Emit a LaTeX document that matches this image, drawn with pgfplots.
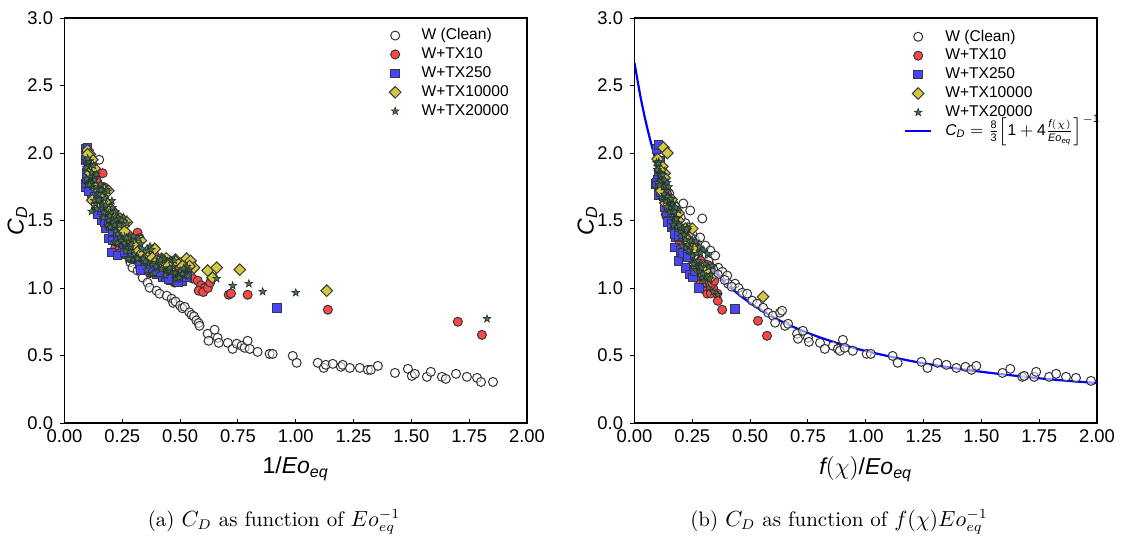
\documentclass[border=0pt]{standalone}
\usepackage{fontspec}
\usepackage{amsmath}
\usepackage{pgfplots}
\pgfplotsset{compat=1.18}
\newfontfamily\arial{Liberation Sans}
\newcommand{\sfit}[1]{\text{\arial\itshape #1}}
\newcommand{\sfup}[1]{\text{\arial #1}}
\definecolor{cred}{RGB}{255,70,70}
\definecolor{cblue}{RGB}{70,70,255}
\definecolor{cyel}{RGB}{212,200,64}
\definecolor{cstar}{RGB}{78,112,88}
\definecolor{cedge}{RGB}{55,55,55}
\pgfdeclareplotmark{fstar}{%
  \pgfpathmoveto{\pgfpointpolar{90}{\pgfplotmarksize}}%
  \pgfpathlineto{\pgfpointpolar{126}{0.4*\pgfplotmarksize}}%
  \pgfpathlineto{\pgfpointpolar{162}{\pgfplotmarksize}}%
  \pgfpathlineto{\pgfpointpolar{198}{0.4*\pgfplotmarksize}}%
  \pgfpathlineto{\pgfpointpolar{234}{\pgfplotmarksize}}%
  \pgfpathlineto{\pgfpointpolar{270}{0.4*\pgfplotmarksize}}%
  \pgfpathlineto{\pgfpointpolar{306}{\pgfplotmarksize}}%
  \pgfpathlineto{\pgfpointpolar{342}{0.4*\pgfplotmarksize}}%
  \pgfpathlineto{\pgfpointpolar{18}{\pgfplotmarksize}}%
  \pgfpathlineto{\pgfpointpolar{54}{0.4*\pgfplotmarksize}}%
  \pgfpathclose\pgfusepathqfillstroke}
\pgfplotsset{
  sclean/.style={only marks, mark=*, mark size=2.25pt, mark options={draw=black!80, fill=white, fill opacity=0.55, line width=0.5pt}},
  sred/.style={only marks, mark=*, mark size=2.25pt, mark options={draw=cedge, fill=cred, line width=0.5pt}},
  sblue/.style={only marks, mark=square*, mark size=2.15pt, mark options={draw=cedge, fill=cblue, line width=0.5pt}},
  syel/.style={only marks, mark=square*, mark size=2.05pt, mark options={rotate=45, draw=cedge, fill=cyel, line width=0.5pt}},
  sstar/.style={only marks, mark=fstar, mark size=2pt, mark options={draw=cstar!45!black, fill=cstar, line width=0.3pt}},
  myaxis/.style={
    scale only axis, width=231.25pt, height=202.5pt,
    xmin=0, xmax=2, ymin=0, ymax=3,
    xtick={0,0.25,0.5,0.75,1,1.25,1.5,1.75,2},
    ytick={0,0.5,1,1.5,2,2.5,3},
    xtick pos=bottom, ytick pos=left,
    xtick align=inside, ytick align=outside,
    major tick length=2.2pt,
    axis line style={line width=0.6pt},
    every tick/.style={black, line width=0.5pt},
    /pgf/number format/assume math mode=true,
    tick label style={font=\arial\fontsize{9.2}{11}\selectfont},
    xticklabel style={/pgf/number format/.cd, fixed, fixed zerofill, precision=2},
    yticklabel style={/pgf/number format/.cd, fixed, fixed zerofill, precision=1},
    label style={font=\arial\fontsize{11.5}{13}\selectfont},
    ylabel style={at={(axis description cs:-0.102,0.5)}, anchor=center},
    legend image code/.code={\draw[mark repeat=2,mark phase=2,##1] plot coordinates {(0pt,0pt) (6.5pt,0pt) (13pt,0pt)}; \path (19.5pt,0pt);},
    legend cell align=left,
    legend style={draw=none, fill=none, anchor=north west, inner sep=0pt, column sep=0pt, row sep=0pt,
      font=\arial\fontsize{7.8}{9}\selectfont,
      nodes={inner xsep=0pt, inner ysep=0.85pt, text height=6pt, text depth=1.75pt}},
  }
}
\begin{document}
\begin{tikzpicture}
\useasboundingbox (0,0) rectangle (561pt,268pt);
% ---------------- (a) ----------------
\begin{axis}[myaxis, at={(32.25pt,56.5pt)}, anchor=south west,
  xlabel={1/$\sfit{Eo}_{\sfit{eq}}$}, ylabel={$\sfit{C}_{\sfit{D}}$},
  legend style={at={(0.7016,0.981)}}]
\addplot[sclean] coordinates {
(0.095,1.95) (0.10,1.88) (0.105,1.80) (0.11,1.92) (0.115,1.85) (0.12,1.76) (0.13,1.83) (0.135,1.72) (0.14,1.78) (0.15,1.95)
(0.15,1.68) (0.16,1.72) (0.165,1.62) (0.17,1.66) (0.18,1.58) (0.185,1.62) (0.19,1.52) (0.20,1.55) (0.205,1.47) (0.21,1.50)
(0.22,1.44) (0.225,1.40) (0.23,1.46) (0.24,1.36) (0.25,1.33) (0.255,1.38) (0.26,1.30) (0.27,1.28) (0.275,1.30) (0.28,1.22) (0.285,1.19)
(0.294,1.151) (0.316,1.129) (0.338,1.077) (0.359,1.040) (0.368,1.002) (0.398,0.980) (0.411,0.958) (0.442,0.943) (0.463,0.921)
(0.47,0.89) (0.48,0.90) (0.50,0.87) (0.51,0.85) (0.52,0.86) (0.54,0.82) (0.55,0.80) (0.56,0.79) (0.57,0.76) (0.58,0.74)
(0.584,0.720) (0.619,0.661) (0.649,0.691) (0.623,0.609) (0.662,0.631) (0.667,0.594) (0.706,0.594) (0.727,0.549) (0.745,0.587)
(0.766,0.572) (0.779,0.557) (0.792,0.609) (0.801,0.549) (0.835,0.527) (0.887,0.512) (0.900,0.512) (0.987,0.497) (1.004,0.446)
(1.095,0.446) (1.121,0.408) (1.130,0.431) (1.160,0.438) (1.195,0.416) (1.203,0.431) (1.234,0.408) (1.277,0.408) (1.312,0.394)
(1.325,0.394) (1.355,0.423) (1.429,0.371) (1.485,0.401) (1.502,0.349) (1.515,0.364) (1.567,0.342) (1.584,0.379) (1.632,0.342)
(1.649,0.327) (1.693,0.364) (1.740,0.342) (1.784,0.334) (1.801,0.304) (1.853,0.304)
};
\addlegendentry{W (Clean)}
\addplot[sred] coordinates {
(0.12,1.88) (0.135,1.80) (0.165,1.85) (0.15,1.70) (0.18,1.62) (0.20,1.55) (0.22,1.48) (0.22,1.30) (0.24,1.26) (0.25,1.45)
(0.27,1.33) (0.28,1.38) (0.30,1.30) (0.316,1.41) (0.325,1.37) (0.33,1.22) (0.35,1.25) (0.37,1.19) (0.38,1.15) (0.40,1.20)
(0.42,1.12) (0.44,1.16) (0.455,1.11) (0.476,1.04) (0.49,1.08) (0.50,1.13) (0.52,1.10) (0.554,1.07) (0.576,1.054) (0.59,1.02)
(0.606,1.002) (0.58,0.98) (0.60,0.97) (0.62,1.00) (0.63,1.04) (0.64,1.08) (0.710,0.950) (0.72,0.96) (0.792,0.950)
(1.139,0.839) (1.701,0.750) (1.805,0.653)
(0.095,1.795) (0.11,1.858) (0.125,1.654) (0.14,1.795) (0.155,1.62) (0.17,1.748) (0.185,1.446) (0.20,1.52) (0.215,1.549)
(0.23,1.37) (0.245,1.515) (0.26,1.351) (0.275,1.392) (0.29,1.216) (0.31,1.36) (0.33,1.207) (0.35,1.241) (0.37,1.111)
(0.39,1.24) (0.41,1.16) (0.43,1.101) (0.45,1.158) (0.47,1.049) (0.49,1.155) (0.51,1.081) (0.53,1.159)
};
\addlegendentry{W+TX10}
\addplot[sblue] coordinates {
(0.09,2.03) (0.10,2.04) (0.09,1.95) (0.095,1.85) (0.10,1.80) (0.09,1.75) (0.105,1.72) (0.11,1.90) (0.12,1.70) (0.13,1.65)
(0.14,1.60) (0.15,1.55) (0.16,1.50) (0.17,1.60) (0.18,1.44) (0.19,1.366) (0.203,1.262) (0.229,1.240) (0.21,1.42) (0.23,1.35)
(0.25,1.30) (0.27,1.25) (0.30,1.22) (0.325,1.18) (0.35,1.15) (0.38,1.12) (0.40,1.10) (0.424,1.077) (0.44,1.08) (0.46,1.06)
(0.48,1.065) (0.511,1.054) (0.53,1.08) (0.918,0.854)
(0.092,1.774) (0.098,1.816) (0.105,1.72) (0.115,1.787) (0.13,1.676) (0.145,1.55) (0.16,1.573) (0.175,1.488) (0.19,1.499)
(0.21,1.352) (0.23,1.354) (0.26,1.264) (0.29,1.268) (0.33,1.135) (0.37,1.133) (0.41,1.12) (0.45,1.068) (0.49,1.043)
};
\addlegendentry{W+TX250}
\addplot[syel] coordinates {
(0.10,2.02) (0.11,1.99) (0.12,1.95) (0.11,1.85) (0.13,1.75) (0.12,1.65) (0.14,1.62) (0.16,1.70) (0.18,1.63) (0.20,1.58)
(0.22,1.52) (0.24,1.46) (0.26,1.42) (0.28,1.36) (0.29,1.30) (0.31,1.28) (0.33,1.25) (0.35,1.22) (0.37,1.24) (0.40,1.20)
(0.42,1.18) (0.44,1.22) (0.46,1.19) (0.48,1.21) (0.50,1.18) (0.52,1.16) (0.528,1.218) (0.545,1.20) (0.56,1.15) (0.64,1.077)
(0.619,1.129) (0.658,1.151) (0.758,1.136) (1.134,0.980)
(0.10,1.99) (0.115,1.885) (0.13,1.886) (0.15,1.725) (0.17,1.732) (0.19,1.72) (0.21,1.566) (0.24,1.513) (0.27,1.486)
(0.30,1.326) (0.33,1.351) (0.36,1.275) (0.39,1.29) (0.42,1.217) (0.45,1.167) (0.48,1.197) (0.51,1.161) (0.54,1.162)
};
\addlegendentry{W+TX10000}
\addplot[sstar] coordinates {
(0.117,1.567) (0.10,1.90) (0.11,1.82) (0.12,1.75) (0.13,1.80) (0.14,1.70) (0.15,1.66) (0.16,1.62) (0.17,1.57) (0.18,1.55)
(0.19,1.50) (0.20,1.47) (0.21,1.45) (0.22,1.42) (0.23,1.40) (0.24,1.37) (0.25,1.35) (0.26,1.32) (0.27,1.30) (0.28,1.28)
(0.30,1.25) (0.32,1.22) (0.34,1.20) (0.36,1.18) (0.38,1.17) (0.40,1.15) (0.42,1.14) (0.44,1.13) (0.46,1.12) (0.48,1.11)
(0.50,1.10) (0.52,1.09) (0.658,1.069) (0.727,1.017) (0.797,1.032) (0.857,0.973) (1.000,0.965) (1.827,0.772)
(0.09,1.945) (0.10,1.765) (0.11,1.942) (0.12,1.772) (0.13,1.83) (0.14,1.585) (0.15,1.695) (0.16,1.759) (0.17,1.556)
(0.18,1.729) (0.19,1.448) (0.20,1.554) (0.21,1.484) (0.22,1.566) (0.23,1.322) (0.24,1.482) (0.25,1.355) (0.26,1.38)
(0.27,1.479) (0.28,1.273) (0.29,1.359) (0.30,1.209) (0.32,1.366) (0.34,1.217) (0.36,1.275) (0.38,1.106) (0.40,1.19)
(0.42,1.227) (0.44,1.114) (0.46,1.209) (0.48,1.069) (0.50,1.126) (0.52,1.092) (0.54,1.138)
(0.095,1.81) (0.105,1.937) (0.115,1.773) (0.125,1.906) (0.135,1.624) (0.145,1.73) (0.155,1.77) (0.165,1.619) (0.175,1.664)
(0.185,1.463) (0.195,1.535) (0.205,1.646) (0.215,1.341) (0.225,1.508) (0.235,1.513) (0.245,1.35) (0.255,1.525) (0.265,1.272)
(0.275,1.364) (0.285,1.304) (0.31,1.222) (0.33,1.327) (0.35,1.197) (0.37,1.309) (0.39,1.11) (0.41,1.19) (0.43,1.218)
(0.45,1.131) (0.47,1.159) (0.49,1.067) (0.51,1.105) (0.53,1.159)
(0.093,1.89) (0.10,1.96) (0.108,1.766) (0.118,1.855) (0.128,1.649) (0.138,1.841) (0.148,1.651) (0.158,1.726) (0.168,1.522)
(0.178,1.613) (0.188,1.718) (0.198,1.45) (0.208,1.595) (0.218,1.468) (0.228,1.334) (0.238,1.465) (0.248,1.502) (0.258,1.333)
(0.268,1.371) (0.278,1.216) (0.288,1.324) (0.298,1.382) (0.315,1.218) (0.335,1.288) (0.355,1.132) (0.375,1.284) (0.395,1.16)
(0.415,1.208) (0.435,1.094) (0.455,1.148) (0.475,1.203) (0.495,1.076) (0.515,1.146) (0.535,1.088)
};
\addlegendentry{W+TX20000}
\end{axis}
% ---------------- (b) ----------------
\begin{axis}[myaxis, at={(317.25pt,56.5pt)}, anchor=south west,
  xlabel={$\sfit{f}(\chi)$/$\sfit{Eo}_{\sfit{eq}}$}, ylabel={$\sfit{C}_{\sfit{D}}$},
  legend style={at={(0.582,0.978)}}]
\addplot[sclean] coordinates {
(0.10,1.95) (0.11,1.88) (0.12,1.82) (0.13,1.78) (0.14,1.72) (0.15,1.70) (0.16,1.65) (0.17,1.62) (0.18,1.60) (0.19,1.55)
(0.20,1.52) (0.211,1.626) (0.241,1.574) (0.22,1.48) (0.23,1.45) (0.25,1.40) (0.26,1.36) (0.27,1.33) (0.284,1.374) (0.293,1.515)
(0.306,1.314) (0.328,1.277) (0.349,1.240) (0.362,1.151) (0.38,1.12) (0.401,1.092) (0.405,1.032) (0.435,1.032) (0.45,1.00)
(0.466,0.965) (0.487,0.958) (0.509,0.906) (0.530,0.884) (0.556,0.854) (0.578,0.817) (0.599,0.795) (0.608,0.743) (0.629,0.817)
(0.638,0.832) (0.651,0.720) (0.664,0.735) (0.703,0.661) (0.707,0.624) (0.728,0.683) (0.750,0.631) (0.754,0.601) (0.802,0.594)
(0.823,0.549) (0.858,0.572) (0.879,0.549) (0.888,0.535) (0.901,0.616) (0.909,0.557) (0.944,0.535) (1.004,0.512) (1.022,0.512)
(1.116,0.497) (1.138,0.446) (1.241,0.453) (1.267,0.408) (1.310,0.446) (1.349,0.431) (1.392,0.408) (1.431,0.416) (1.457,0.394)
(1.478,0.423) (1.591,0.371) (1.625,0.401) (1.677,0.342) (1.685,0.349) (1.728,0.342) (1.737,0.379) (1.793,0.342) (1.823,0.364)
(1.866,0.342) (1.909,0.334) (1.974,0.312)
(0.22,1.42) (0.24,1.38) (0.26,1.32) (0.28,1.28) (0.30,1.24) (0.32,1.20) (0.34,1.14) (0.36,1.10) (0.39,1.06) (0.42,1.01)
};
\addlegendentry{W (Clean)}
\addplot[sred] coordinates {
(0.12,1.80) (0.14,1.70) (0.16,1.60) (0.18,1.45) (0.19,1.31) (0.198,1.314) (0.21,1.35) (0.23,1.25) (0.254,1.14) (0.263,1.077)
(0.27,1.15) (0.284,1.03) (0.29,1.10) (0.30,0.99) (0.315,0.958) (0.33,0.96) (0.34,1.00) (0.358,0.958) (0.379,0.839)
(0.534,0.757) (0.573,0.646)
(0.105,1.726) (0.12,1.746) (0.135,1.544) (0.15,1.647) (0.165,1.491) (0.18,1.567) (0.195,1.334) (0.21,1.369) (0.225,1.372)
(0.24,1.221) (0.255,1.324) (0.27,1.178) (0.285,1.202) (0.30,1.036) (0.315,1.172) (0.33,1.022) (0.345,1.053) (0.36,0.905)
};
\addlegendentry{W+TX10}
\addplot[sblue] coordinates {
(0.095,2.03) (0.103,2.06) (0.112,1.945) (0.103,1.83) (0.10,1.80) (0.105,1.75) (0.11,1.70) (0.12,1.72) (0.13,1.62) (0.14,1.55)
(0.15,1.50) (0.16,1.45) (0.177,1.374) (0.175,1.30) (0.198,1.26) (0.19,1.20) (0.20,1.28) (0.22,1.15) (0.24,1.10) (0.254,1.077)
(0.28,1.00) (0.435,0.846)
(0.092,1.77) (0.098,1.777) (0.105,1.688) (0.115,1.707) (0.13,1.595) (0.145,1.488) (0.16,1.476) (0.175,1.399) (0.19,1.385)
(0.21,1.259) (0.23,1.229) (0.26,1.127)
};
\addlegendentry{W+TX250}
\addplot[syel] coordinates {
(0.125,2.04) (0.142,2.00) (0.12,1.90) (0.13,1.85) (0.115,1.72) (0.134,1.63) (0.15,1.65) (0.17,1.58) (0.19,1.50) (0.21,1.42)
(0.23,1.35) (0.25,1.44) (0.27,1.15) (0.29,1.15) (0.31,1.12) (0.33,1.08) (0.556,0.935)
(0.10,1.955) (0.11,1.872) (0.13,1.815) (0.16,1.656) (0.19,1.555) (0.22,1.439) (0.26,1.287) (0.30,1.162)
};
\addlegendentry{W+TX10000}
\addplot[sstar] coordinates {
(0.10,1.90) (0.11,1.85) (0.12,1.80) (0.13,1.75) (0.14,1.72) (0.15,1.66) (0.16,1.62) (0.17,1.58) (0.18,1.52) (0.19,1.48)
(0.20,1.44) (0.21,1.40) (0.22,1.36) (0.23,1.32) (0.24,1.28) (0.25,1.24) (0.26,1.20) (0.27,1.16) (0.28,1.12) (0.29,1.08)
(0.30,1.05) (0.32,1.00) (0.34,0.97) (0.36,0.95)
(0.095,1.929) (0.10,1.781) (0.105,1.934) (0.11,1.788) (0.115,1.847) (0.12,1.654) (0.125,1.75) (0.13,1.799) (0.135,1.644)
(0.14,1.778) (0.145,1.576) (0.15,1.651) (0.155,1.594) (0.16,1.658) (0.165,1.471) (0.17,1.596) (0.175,1.493) (0.18,1.511)
(0.19,1.577) (0.20,1.381) (0.21,1.445) (0.22,1.295) (0.23,1.445) (0.24,1.297) (0.25,1.353) (0.26,1.159) (0.27,1.254)
(0.28,1.302) (0.29,1.147) (0.30,1.28) (0.31,1.079) (0.32,1.154) (0.33,1.098) (0.34,1.162)
(0.098,1.876) (0.103,1.921) (0.108,1.762) (0.113,1.839) (0.118,1.67) (0.123,1.838) (0.128,1.694) (0.133,1.755) (0.138,1.60)
(0.143,1.675) (0.148,1.749) (0.153,1.56) (0.158,1.66) (0.163,1.568) (0.168,1.465) (0.173,1.566) (0.178,1.596) (0.185,1.451)
(0.195,1.464) (0.205,1.311) (0.215,1.394) (0.225,1.436) (0.235,1.275) (0.245,1.349) (0.255,1.178) (0.265,1.345) (0.275,1.20)
(0.285,1.26) (0.295,1.105) (0.305,1.179) (0.315,1.254) (0.325,1.066) (0.335,1.166)
};
\addlegendentry{W+TX20000}
\addplot[blue, line width=1.1pt, smooth] coordinates {
(0,2.667) (0.025,2.424) (0.05,2.222) (0.075,2.051) (0.1,1.905) (0.15,1.667) (0.2,1.481) (0.25,1.333) (0.3,1.212)
(0.4,1.026) (0.5,0.889) (0.6,0.784) (0.7,0.702) (0.8,0.635) (0.9,0.580) (1.0,0.533) (1.2,0.458) (1.4,0.402)
(1.6,0.359) (1.8,0.323) (2.0,0.296)
};
\addlegendentry{$\sfit{C}_{\sfit{D}} = \frac{\sfup{8}}{\sfup{3}}\Bigl[\sfup{1} + \sfup{4}\frac{\sfit{f}(\chi)}{\sfit{Eo}_{\sfit{eq}}}\Bigr]^{-\sfup{1}}$}
\end{axis}
\node[font=\fontsize{10.5}{12}\selectfont] at (137pt,7pt) {(a) $C_D$ as function of $Eo_{eq}^{-1}$};
\node[font=\fontsize{10.5}{12}\selectfont] at (419.5pt,7pt) {(b) $C_D$ as function of $f(\chi)Eo_{eq}^{-1}$};
\end{tikzpicture}
\end{document}
